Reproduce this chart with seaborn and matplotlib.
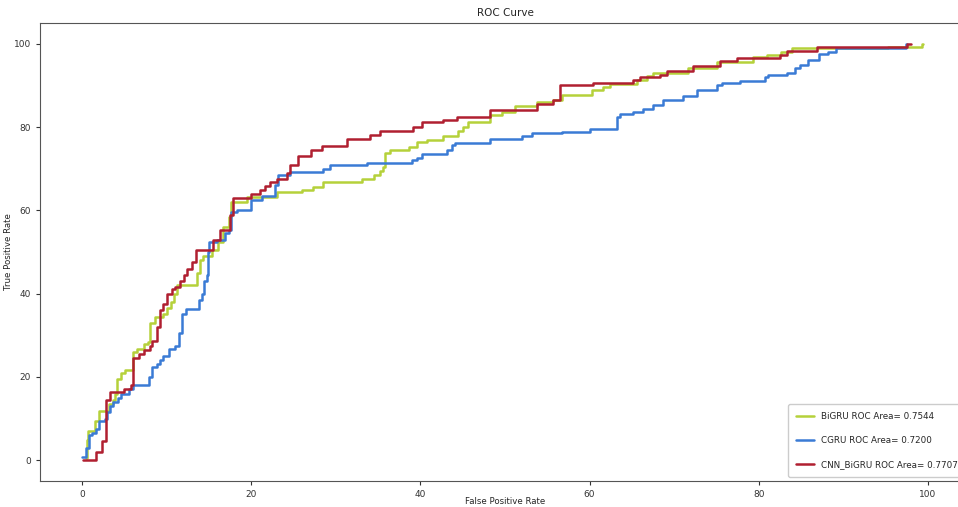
import matplotlib
matplotlib.use("Agg")
import matplotlib.pyplot as plt
import pandas as pd
import seaborn as sns

# (false positive rate, true positive rate) breakpoints
bigru = [(0.4, 0.5), (0.5, 4.8), (0.7, 7), (1.5, 9.5), (2.0, 11.7), (3.2, 13.5), (3.6, 14.5),
         (3.9, 16), (4.1, 19.5), (4.6, 21), (5.0, 21.7), (6.0, 26), (6.5, 26.7), (7.3, 28),
         (7.8, 28.5), (8.0, 33), (8.6, 34.5), (9.5, 35), (10.0, 36.5), (10.5, 38), (10.8, 40),
         (11.2, 42), (13.6, 45), (13.9, 48), (14.3, 49), (15.3, 50.5), (16.1, 52.4), (16.7, 56),
         (17.3, 58.5), (17.6, 62), (19.5, 63.3), (23.0, 64.4), (26.0, 65), (27.3, 65.5),
         (28.5, 66.7), (33.1, 67.5), (34.5, 68.5), (35.2, 69.5), (35.6, 70.5), (35.8, 73.7),
         (36.4, 74.5), (38.7, 75.3), (39.6, 76.5), (40.8, 77), (42.7, 77.8), (44.4, 79),
         (45.0, 80), (45.6, 81.2), (48.2, 82.9), (49.6, 83.7), (51.2, 85), (53.8, 86),
         (55.7, 86.6), (56.7, 87.7), (60.3, 88.9), (61.6, 89.7), (62.4, 90.4), (65.6, 91.2),
         (66.8, 92.2), (67.5, 93), (71.6, 94.2), (75.1, 95.7), (79.3, 96.9), (81.0, 97.4),
         (82.7, 98.1), (84.0, 98.9), (95.3, 99.3), (99.3, 100), (99.4, 100)]

cgru = [(0.0, 0.8), (0.4, 3), (0.8, 6), (1.2, 6.5), (1.6, 7.5), (2.0, 9.3), (2.7, 10),
        (2.9, 11.5), (3.3, 13), (3.6, 14), (4.2, 15), (4.6, 16), (5.5, 17), (6.0, 18),
        (7.9, 20), (8.3, 22.3), (8.8, 23), (9.2, 24), (9.5, 25), (10.2, 26.8), (11.0, 27.5),
        (11.4, 30.5), (11.8, 35.2), (12.3, 36.3), (13.8, 38.5), (14.1, 40), (14.4, 43),
        (14.7, 44.5), (14.9, 50), (15.0, 52.4), (15.9, 53), (16.9, 54.6), (17.3, 55.2),
        (17.6, 59.5), (18.3, 60.1), (19.9, 62.5), (21.2, 63.5), (22.8, 66.1), (23.2, 68.5),
        (24.6, 69.3), (28.5, 70), (29.3, 70.9), (33.7, 71.4), (39.0, 72), (39.6, 72.6),
        (40.2, 73.6), (43.1, 74.5), (43.7, 75.7), (44.1, 76.2), (48.2, 77.1), (52.0, 77.9),
        (53.2, 78.6), (56.7, 78.9), (60.0, 79.5), (63.2, 82.5), (63.6, 83.2), (65.1, 83.7),
        (66.3, 84.3), (67.5, 85.3), (68.7, 86.5), (71.0, 87.5), (72.7, 88.9), (75.1, 90.1),
        (75.7, 90.6), (77.8, 91.1), (80.7, 92.1), (81.1, 92.5), (83.3, 93), (84.3, 94.2),
        (84.9, 95), (85.8, 96.2), (87.2, 97.6), (88.2, 98.1), (89.2, 99), (97.4, 100),
        (97.6, 100)]

cnn_bigru = [(0.1, 0), (1.6, 2), (2.3, 4.5), (2.8, 14.5), (3.3, 16.4), (4.9, 17), (5.0, 17.2),
             (5.8, 18), (6.0, 24.5), (6.7, 25.5), (7.3, 26.5), (8.0, 27.5), (8.3, 28.7),
             (8.8, 32), (9.2, 36), (9.6, 37.5), (10.0, 40), (10.6, 41), (11.0, 41.5), (11.5, 43),
             (12.0, 44.5), (12.4, 46), (13.0, 47.5), (13.4, 50.5), (15.5, 53), (16.3, 55.3),
             (17.5, 59), (17.8, 63), (20.0, 64), (21.0, 65), (21.6, 65.8), (22.2, 66.8),
             (23.0, 67.5), (24.2, 69), (24.6, 71), (25.5, 73), (27.0, 74.5), (28.4, 75.5),
             (31.3, 77.2), (34.0, 78), (35.2, 79), (39.1, 80), (40.2, 81.3), (42.7, 81.8),
             (44.3, 82.5), (48.2, 84), (53.8, 85.5), (55.7, 86.5), (56.5, 90.1), (60.4, 90.6),
             (65.1, 91.3), (66.0, 92), (68.3, 92.5), (69.2, 93.5), (72.2, 94.7), (75.4, 95.9),
             (77.5, 96.6), (82.5, 97.4), (83.3, 98.3), (86.9, 99.3), (97.6, 100), (98.0, 100)]

labels = ["BiGRU ROC Area= 0.7544", "CGRU ROC Area= 0.7200", "CNN_BiGRU ROC Area= 0.7707"]
colors = ["#b5d13a", "#3a7bd5", "#b01f30"]

frames = []
for lab, pts in zip(labels, [bigru, cgru, cnn_bigru]):
    df = pd.DataFrame(pts, columns=["fpr", "tpr"])
    df["model"] = lab
    frames.append(df)
data = pd.concat(frames, ignore_index=True)

sns.set_style("ticks")
plt.rcParams["font.family"] = ["DejaVu Sans"]

fig = plt.figure(figsize=(9.58, 5.07), dpi=100)
# the axes runs a little past the right edge, as in the reference
ax = fig.add_axes([0.0418, 0.0513, 0.9707, 0.9033])

sns.lineplot(data=data, x="fpr", y="tpr", hue="model", palette=colors, sort=False,
             estimator=None, drawstyle="steps-post", linewidth=1.8, ax=ax)

ax.set_xlim(-5, 105)
ax.set_ylim(-5, 105)
ax.set_xticks([0, 20, 40, 60, 80, 100])
ax.set_yticks([0, 20, 40, 60, 80, 100])
ax.tick_params(labelsize=6.5, length=3, width=0.8, colors="#333333")
for s in ax.spines.values():
    s.set_color("#555555")
ax.set_title("ROC Curve", fontsize=7.5, pad=5)
ax.set_xlabel("False Positive Rate", fontsize=6.2)
ax.set_ylabel("True Positive Rate", fontsize=6.2)
ax.xaxis.set_label_coords(0.5, -0.034)
ax.yaxis.set_label_coords(-0.029, 0.5)

ax.legend(loc="lower right", fontsize=6.3, labelspacing=1.7, handlelength=2.0,
          borderpad=0.9, frameon=True, framealpha=1, edgecolor="#cccccc", title=None)

fig.savefig("out.png", dpi=100)
